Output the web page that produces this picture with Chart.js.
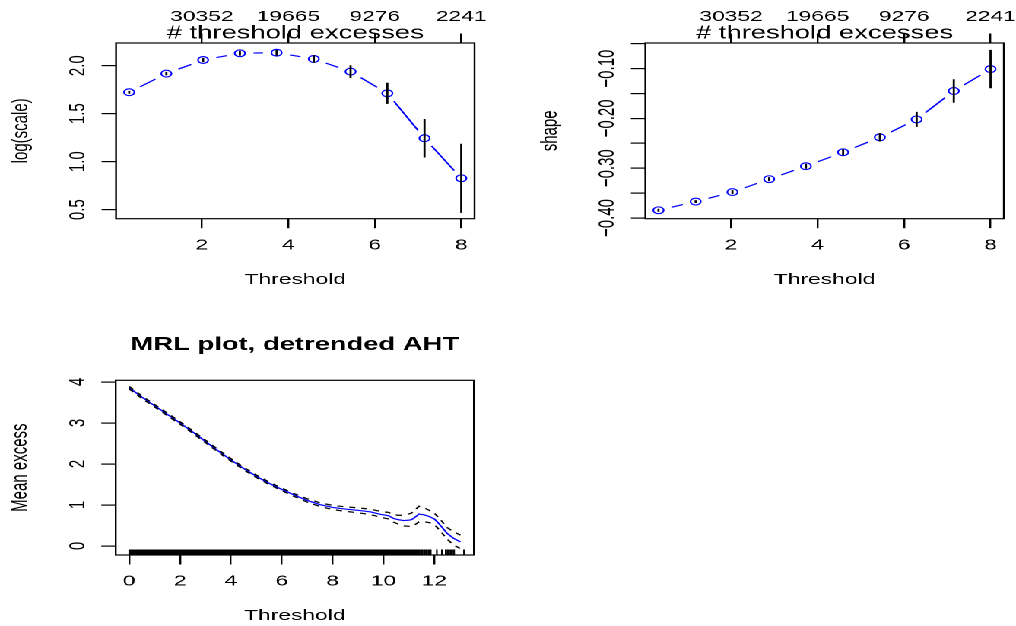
<!DOCTYPE html>
<html><head><meta charset="utf-8">
<script src="https://cdn.jsdelivr.net/npm/chart.js@4.4.0/dist/chart.umd.min.js"></script>
<style>
html,body{margin:0;padding:0;background:#fff;overflow:hidden;width:1016px;height:626px;}
#wrap{position:absolute;left:0;top:0;width:668px;height:626px;transform:scale(1.52096,1);transform-origin:0 0;}
canvas{position:absolute;}
</style></head><body>
<div id="wrap">
<canvas id="c1" width="334" height="313" style="left:0px;top:0px"></canvas>
<canvas id="c2" width="334" height="313" style="left:334px;top:0px"></canvas>
<canvas id="c3" width="334" height="313" style="left:0px;top:313px"></canvas>
</div>
<script>
// ---------- data ----------
const thresholds = [0.32, 1.18, 2.03, 2.88, 3.73, 4.59, 5.44, 6.29, 7.15, 8.00];
const logScale = [1.723, 1.917, 2.059, 2.129, 2.135, 2.070, 1.938, 1.712, 1.244, 0.827];
const logScaleHalfCI = [0.015, 0.018, 0.022, 0.026, 0.030, 0.040, 0.066, 0.11, 0.20, 0.36];
const shape = [-0.3845, -0.367, -0.348, -0.322, -0.296, -0.268, -0.238, -0.202, -0.145, -0.101];
const shapeHalfCI = [0.003, 0.003, 0.004, 0.004, 0.005, 0.006, 0.0085, 0.015, 0.0235, 0.0385];
const thrTicks = [2, 4, 6, 8];
const thrTickLabels = ['2', '4', '6', '8'];
const excessCounts = ['30352', '19665', '9276', '2241'];
const logScaleTicks = [0.5, 1.0, 1.5, 2.0];
const logScaleTickLabels = ['0.5', '1.0', '1.5', '2.0'];
const shapeTicks = [-0.40, -0.35, -0.30, -0.25, -0.20, -0.15, -0.10, -0.05];
const shapeTickLabels = ['\u22120.40', '', '\u22120.30', '', '\u22120.20', '', '\u22120.10', ''];

const mrlThreshold = [0, 0.5, 1, 1.5, 2, 2.5, 3, 3.5, 4, 4.5, 5, 5.5, 6, 6.5, 7, 7.5, 8, 8.5, 9, 9.5, 9.9, 10.2, 10.4, 10.6, 10.8, 11.0, 11.1, 11.2, 11.4, 11.6, 11.8, 12.0, 12.1, 12.3, 12.5, 12.75, 13.03];
const mrlMean = [3.86, 3.63, 3.42, 3.21, 3.00, 2.78, 2.55, 2.32, 2.10, 1.89, 1.70, 1.53, 1.38, 1.24, 1.11, 1.01, 0.94, 0.90, 0.87, 0.83, 0.77, 0.74, 0.67, 0.64, 0.62, 0.63, 0.64, 0.68, 0.78, 0.76, 0.72, 0.66, 0.60, 0.46, 0.31, 0.19, 0.10];
const mrlUpper = [3.89, 3.66, 3.45, 3.24, 3.03, 2.81, 2.58, 2.35, 2.13, 1.92, 1.73, 1.56, 1.41, 1.275, 1.15, 1.055, 0.99, 0.955, 0.93, 0.895, 0.84, 0.82, 0.76, 0.75, 0.75, 0.78, 0.80, 0.86, 0.97, 0.93, 0.87, 0.80, 0.74, 0.60, 0.45, 0.35, 0.265];
const mrlLower = [3.83, 3.60, 3.39, 3.18, 2.97, 2.75, 2.52, 2.29, 2.07, 1.86, 1.67, 1.50, 1.35, 1.205, 1.07, 0.965, 0.89, 0.845, 0.81, 0.765, 0.70, 0.66, 0.58, 0.53, 0.49, 0.48, 0.48, 0.50, 0.59, 0.59, 0.57, 0.52, 0.46, 0.32, 0.17, 0.03, -0.065];
const mrlXTicks = [0, 2, 4, 6, 8, 10, 12];
const mrlXTickLabels = ['0', '2', '4', '6', '8', '10', '12'];
const mrlYTicks = [0, 1, 2, 3, 4];
const mrlYTickLabels = ['0', '1', '2', '3', '4'];
const rugDenseRange = [0, 11.42];
const rugValues = [11.47, 11.53, 11.60, 11.66, 11.72, 11.79, 11.86, 12.10, 12.30, 12.45, 12.52, 12.58, 12.65, 12.71, 12.78, 13.17];

// ---------- helpers ----------
Chart.defaults.font.family = "'Liberation Sans', Arial, Helvetica, sans-serif";
Chart.defaults.font.size = 15;
Chart.defaults.color = '#000';

function fixW(w) { return s => { s.width = w; s.paddingTop = 0; s.paddingBottom = 0; s.paddingLeft = 0; s.paddingRight = 0; }; }
function fixH(h) { return s => { s.height = h; s.paddingTop = 0; s.paddingBottom = 0; s.paddingLeft = 0; s.paddingRight = 0; }; }
function setTicks(vals) { return s => { s.ticks = vals.map(v => ({ value: v })); }; }
const gridOpts = { display: true, drawOnChartArea: false, drawTicks: true, tickLength: 9.5, color: '#000', lineWidth: 1.2 };

const boxPlugin = {
  id: 'box',
  afterDraw(chart) {
    const { ctx, chartArea: a } = chart;
    ctx.save(); ctx.strokeStyle = '#000'; ctx.lineWidth = 1.2;
    ctx.strokeRect(a.left, a.top, a.right - a.left, a.bottom - a.top);
    ctx.restore();
  }
};
const gapLine = {
  id: 'gapLine',
  beforeDatasetsDraw(chart, args, opts) {
    if (!opts || !opts.gap) return;
    const pts = chart.getDatasetMeta(0).data;
    const ctx = chart.ctx; const g = opts.gap;
    ctx.save(); ctx.strokeStyle = '#0000ff'; ctx.lineWidth = 1.2; ctx.beginPath();
    for (let i = 0; i < pts.length - 1; i++) {
      const a = pts[i], b = pts[i + 1];
      const dx = b.x - a.x, dy = b.y - a.y, d = Math.hypot(dx, dy);
      if (d > 2 * g) {
        const ux = dx / d, uy = dy / d;
        ctx.moveTo(a.x + ux * g, a.y + uy * g);
        ctx.lineTo(b.x - ux * g, b.y - uy * g);
      }
    }
    ctx.stroke(); ctx.restore();
  }
};
const errBars = {
  id: 'errBars',
  afterDatasetsDraw(chart, args, opts) {
    if (!opts || !opts.x) return;
    const xs = chart.scales.x, ys = chart.scales.y, ctx = chart.ctx;
    ctx.save(); ctx.strokeStyle = '#000'; ctx.lineWidth = 1.4; ctx.beginPath();
    opts.x.forEach((xv, i) => {
      const px = xs.getPixelForValue(xv);
      ctx.moveTo(px, ys.getPixelForValue(opts.y[i] - opts.h[i]));
      ctx.lineTo(px, ys.getPixelForValue(opts.y[i] + opts.h[i]));
    });
    ctx.stroke(); ctx.restore();
  }
};
const rugPlugin = {
  id: 'rug',
  afterDatasetsDraw(chart, args, opts) {
    if (!opts || !opts.values) return;
    const xs = chart.scales.x, a = chart.chartArea, ctx = chart.ctx;
    const len = opts.len;
    ctx.save(); ctx.fillStyle = '#000'; ctx.strokeStyle = '#000'; ctx.lineWidth = 1.1;
    const x0 = xs.getPixelForValue(opts.dense[0]), x1 = xs.getPixelForValue(opts.dense[1]);
    ctx.fillRect(x0 - 0.5, a.bottom - len, x1 - x0 + 1, len);
    ctx.beginPath();
    opts.values.forEach(v => { const px = xs.getPixelForValue(v); ctx.moveTo(px, a.bottom); ctx.lineTo(px, a.bottom - len); });
    ctx.stroke(); ctx.restore();
  }
};

function threshPanel(id, yVals, yHalf, yMin, yMax, yTicks, yLabels, yTitle, yAxisW, yTitlePad, yTickPad, rightPad) {
  return new Chart(document.getElementById(id), {
    type: 'scatter',
    data: { datasets: [{
      data: thresholds.map((x, i) => ({ x: x, y: yVals[i] })),
      pointRadius: 3.4, pointStyle: 'circle', borderColor: '#0000ff', borderWidth: 1.1,
      backgroundColor: 'rgba(0,0,0,0)', showLine: false
    }] },
    options: {
      responsive: false, animation: false, events: [], devicePixelRatio: 2,
      layout: { padding: { left: 0, top: 0, right: rightPad, bottom: 0 } },
      plugins: {
        legend: { display: false }, tooltip: { enabled: false },
        gapLine: { gap: 9 },
        errBars: { x: thresholds, y: yVals, h: yHalf }
      },
      scales: {
        x: {
          type: 'linear', axis: 'x', position: 'bottom', min: 0.016, max: 8.307,
          afterBuildTicks: setTicks(thrTicks), afterFit: fixH(94.3),
          grid: gridOpts, border: { display: false },
          ticks: { autoSkip: false, padding: 8, maxRotation: 0, callback: (v, i) => thrTickLabels[i] },
          title: { display: true, text: 'Threshold', font: { size: 15 }, padding: { top: 0, bottom: 24.2 } }
        },
        x2: {
          type: 'linear', axis: 'x', position: 'top', min: 0.016, max: 8.307,
          afterBuildTicks: setTicks(thrTicks), afterFit: fixH(43),
          grid: gridOpts, border: { display: false },
          ticks: { autoSkip: false, padding: 7.5, maxRotation: 0, callback: (v, i) => excessCounts[i] },
          title: { display: true, text: '# threshold excesses', font: { size: 18 }, padding: { top: 22.5, bottom: 0 } }
        },
        y: {
          type: 'linear', axis: 'y', position: 'left', min: yMin, max: yMax,
          afterBuildTicks: setTicks(yTicks), afterFit: fixW(yAxisW),
          grid: gridOpts, border: { display: false },
          ticks: { autoSkip: false, minRotation: 90, maxRotation: 90, crossAlign: 'center', padding: yTickPad, callback: (v, i) => yLabels[i] },
          title: { display: true, text: yTitle, font: { size: 15 }, padding: { top: yTitlePad, bottom: 0 } }
        }
      }
    },
    plugins: [gapLine, errBars, boxPlugin]
  });
}

threshPanel('c1', logScale, logScaleHalfCI, 0.406, 2.236, logScaleTicks, logScaleTickLabels, 'log(scale)', 76.3, 4.8, 5.1, 22);
threshPanel('c2', shape, shapeHalfCI, -0.4014, -0.0486, shapeTicks, shapeTickLabels, 'shape', 90.3, 18.8, -3.5, 8);

new Chart(document.getElementById('c3'), {
  type: 'scatter',
  data: { datasets: [
    { data: mrlThreshold.map((x, i) => ({ x: x, y: mrlUpper[i] })), showLine: true, pointRadius: 0, borderColor: '#000', borderWidth: 1.2, borderDash: [4, 4], fill: false },
    { data: mrlThreshold.map((x, i) => ({ x: x, y: mrlLower[i] })), showLine: true, pointRadius: 0, borderColor: '#000', borderWidth: 1.2, borderDash: [4, 4], fill: false },
    { data: mrlThreshold.map((x, i) => ({ x: x, y: mrlMean[i] })), showLine: true, pointRadius: 0, borderColor: '#0000ff', borderWidth: 1.2, fill: false }
  ] },
  options: {
    responsive: false, animation: false, events: [], devicePixelRatio: 2,
    layout: { padding: { left: 0, top: 0, right: 22.4, bottom: 0 } },
    plugins: {
      legend: { display: false }, tooltip: { enabled: false },
      title: { display: true, text: 'MRL plot, detrended AHT', fullSize: false, color: '#000',
        font: { size: 18, weight: 'bold' }, padding: { top: 21.2, bottom: 24.5 } },
      rug: { dense: rugDenseRange, values: rugValues, len: 5.5 }
    },
    scales: {
      x: {
        type: 'linear', axis: 'x', position: 'bottom', min: -0.53, max: 13.56,
        afterBuildTicks: setTicks(mrlXTicks), afterFit: fixH(71),
        grid: gridOpts, border: { display: false },
        ticks: { autoSkip: false, padding: 8, maxRotation: 0, callback: (v, i) => mrlXTickLabels[i] },
        title: { display: true, text: 'Threshold', font: { size: 15 }, padding: { top: 0, bottom: 1.2 } }
      },
      y: {
        type: 'linear', axis: 'y', position: 'left', min: -0.22, max: 4.041,
        afterBuildTicks: setTicks(mrlYTicks), afterFit: fixW(76.1),
        grid: gridOpts, border: { display: false },
        ticks: { autoSkip: false, minRotation: 90, maxRotation: 90, crossAlign: 'center', padding: 11.3, callback: (v, i) => mrlYTickLabels[i] },
        title: { display: true, text: 'Mean excess', font: { size: 15 }, padding: { top: 4.6, bottom: 0 } }
      }
    }
  },
  plugins: [rugPlugin, boxPlugin]
});
</script>
</body></html>
